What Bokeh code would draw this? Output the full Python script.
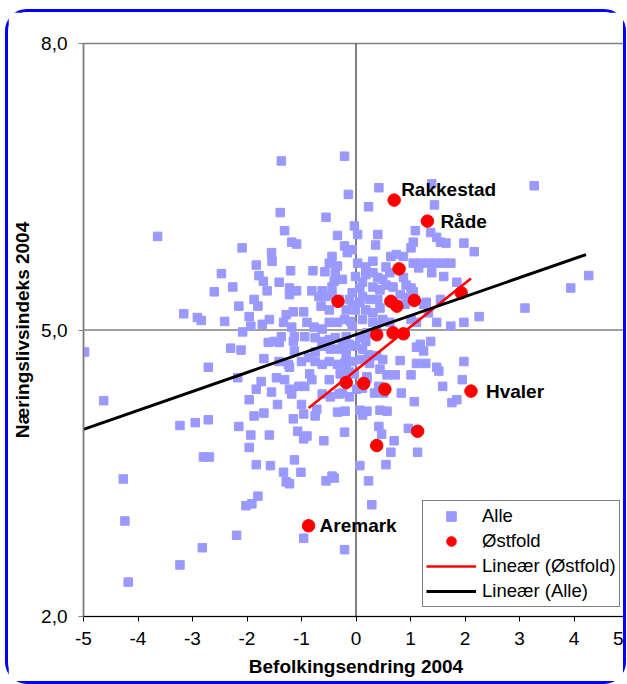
import numpy as np
from bokeh.plotting import figure
from bokeh.models import (ColumnDataSource, Range1d, FixedTicker, Span, Legend,
                          LegendItem, LabelSet)
from bokeh.core.properties import value
from bokeh.embed import file_html
from bokeh.resources import INLINE

# ---------------- data ----------------
alle_x = [-4.98, -4.63, -4.27, -4.24, -4.18, -3.64, -3.23, -2.95, -2.71, -3.23, -2.82, -3.16, -2.91, -2.84,
          -2.60, -2.47, -2.41, -2.71, -1.37, -0.21, -0.14, -1.39, -0.55, 0.42, 0.23, 1.39, 3.27, 1.44,
          -0.03, -1.31, -0.34, -2.09, -1.18, -1.09, -1.55, -1.54, -1.83, -0.21, -0.16, -0.07, -0.44, -0.49,
          -1.20, -0.79, -1.78, -1.70, -0.57, -0.38, -0.40, -0.25, -0.01, -2.26, -1.41, -1.22, -1.09, -1.22,
          -1.63, -0.81, -0.62, -0.44, -0.68, -0.57, -1.87, -1.80, -2.15, -0.64, -0.49, -0.12, -0.07, 0.07,
          -1.96, -1.59, -1.72, -1.93, -2.08, -1.15, -0.96, -1.28, -1.33, -1.18, -0.90, -0.77, -0.62, -0.49,
          -0.34, -0.21, -0.10, -1.37, -1.13, 0.03, 0.40, 0.36, 1.09, 1.37, 1.48, 1.55, 1.65, 1.98, 2.17,
          1.05, 1.01, 0.03, 0.18, 0.31, 0.64, 0.74, 0.87, 1.05, 1.18, 1.33, 1.46, 1.61, 1.74, 0.55, 0.62,
          1.15, 1.39, 1.61, 0.18, 0.31, 0.40, 0.49, 0.87, 0.92, 1.01, 1.05, 1.85, 0.31, 0.44, 0.55, 0.68,
          0.07, 0.12, 0.25, 0.40, 0.81, 0.96, 0.90, -0.01, 0.18, 0.31, 0.44, 1.24, 1.29, 1.55, 0.12, 0.31,
          0.49, 0.62, 1.01, 1.11, 1.48, 1.74, 1.98, 2.26, 3.10, 3.94, 4.27, -0.34, 0.12, 0.66, -0.07, -0.18,
          -0.31, -0.44, 0.38, 1.33, 0.20, -0.18, -0.07, -2.30, -2.11, -1.61, -1.50, -1.41, -1.15, -0.94,
          -0.75, -0.62, -0.49, -0.38, -0.25, -0.12, -1.69, -1.41, -1.24, -1.22, -1.00, -0.87, -0.75, -0.62,
          -0.49, -0.34, -0.20, -0.07, -2.17, -1.74, -1.46, -1.31, -0.85, -0.81, -0.49, -0.29, -0.12, -0.03,
          -1.83, -1.55, -1.22, -1.18, -1.05, -0.94, -0.62, -0.47, -0.31, -0.12, -1.96, -1.44, -1.00, -1.69,
          -1.87, -1.15, -0.96, -0.72, -0.75, -0.34, -0.20, -2.15, -1.93, -1.59, -1.07, -0.96, -0.59, -0.21,
          -1.96, -0.90, -2.80, -2.69, -1.13, -1.83, -1.57, -1.33, -1.01, -1.28, -1.22, -0.55, -0.44, -1.80,
          -2.02, -1.91, -2.19, -0.96, -0.21, 0.07, 1.37, 1.18, 1.24, 1.11, 1.98, 1.95, 1.59, 1.76, 1.85,
          1.48, 1.52, 1.11, 1.28, 0.81, 0.72, 1.01, 0.83, 1.07, 0.42, 0.51, 0.34, 0.20, 0.12, 0.01, -0.25,
          0.07, 0.12, 0.20, 0.44, 0.57, 0.42, 0.47, 0.96, 0.70, 0.64, 1.13, 0.55, -0.40, 0.23, 0.29,
          0.07, 0.18, 0.12, 0.23, 0.08, 0.25, 0.38, 0.49, 0.44, 0.57, 0.20, -0.31, -0.18, -0.18, -0.21,
          -0.62, -0.47, -0.01, -0.75, -1.13]
alle_y = [4.77, 4.26, 3.44, 3.00, 2.36, 5.98, 4.00, 4.03, 4.06, 2.54, 2.72, 5.17, 5.13, 5.10,
          5.40, 5.59, 5.09, 4.61, 6.77, 6.82, 6.42, 6.23, 6.18, 6.49, 6.29, 6.53, 6.51, 6.31,
          6.09, 6.04, 5.99, 5.86, 5.92, 5.90, 5.81, 5.72, 5.68, 5.88, 5.81, 5.84, 5.77, 5.70,
          5.62, 5.62, 5.57, 5.51, 5.61, 5.60, 5.51, 5.53, 5.56, 5.45, 5.50, 5.44, 5.41, 5.37,
          5.41, 5.41, 5.41, 5.45, 5.35, 5.35, 5.32, 5.25, 5.25, 5.25, 5.21, 5.32, 5.39, 5.29,
          5.14, 5.11, 5.06, 5.04, 4.98, 5.19, 5.19, 5.16, 5.08, 5.03, 5.08, 5.03, 5.01, 5.08,
          5.08, 5.11, 5.09, 4.93, 4.93, 6.00, 6.00, 5.89, 6.04, 6.02, 5.97, 5.92, 5.91, 5.91, 5.82,
          5.92, 5.86, 5.70, 5.66, 5.72, 5.77, 5.79, 5.77, 5.70, 5.70, 5.70, 5.70, 5.70, 5.70, 5.66, 5.60,
          5.65, 5.60, 5.56, 5.58, 5.60, 5.55, 5.53, 5.55, 5.47, 5.44, 5.40, 5.50, 5.45, 5.42, 5.47, 5.45,
          5.44, 5.35, 5.32, 5.32, 5.37, 5.34, 5.27, 5.21, 5.21, 5.18, 5.23, 5.27, 5.29, 5.32, 5.11, 5.08,
          5.11, 5.08, 5.11, 5.08, 5.08, 5.04, 5.08, 5.14, 5.23, 5.44, 5.57, 5.67, 5.50, 5.29, 5.26, 5.21,
          5.32, 5.36, 5.04, 5.18, 4.97, 4.93, 5.04, 4.81, 4.79, 4.87, 4.88, 4.87, 4.88, 4.93,
          4.92, 4.88, 4.90, 4.92, 4.85, 4.85, 4.70, 4.67, 4.64, 4.61, 4.67, 4.71, 4.67, 4.64,
          4.67, 4.64, 4.66, 4.67, 4.50, 4.46, 4.50, 4.48, 4.54, 4.48, 4.48, 4.54, 4.56, 4.54,
          4.38, 4.35, 4.38, 4.33, 4.41, 4.41, 4.33, 4.30, 4.33, 4.30, 4.27, 4.22, 4.22, 4.13,
          4.10, 4.07, 4.12, 4.17, 4.10, 4.14, 4.15, 3.99, 3.90, 3.90, 3.94, 3.86, 3.84, 3.93,
          3.77, 3.89, 3.67, 3.67, 3.64, 3.59, 3.58, 3.51, 3.51, 3.41, 3.39, 3.42, 3.47, 3.26,
          3.16, 3.18, 2.85, 2.82, 2.70, 3.58, 4.88, 4.85, 4.78, 4.82, 4.67, 4.48, 4.41, 4.24, 4.27,
          4.61, 4.57, 4.65, 4.65, 4.68, 4.53, 4.53, 4.34, 4.25, 4.41, 4.34, 4.34, 4.51, 4.39, 4.38, 4.34,
          4.16, 4.11, 4.15, 4.16, 4.15, 3.99, 3.91, 3.97, 3.84, 3.72, 3.72, 3.59, 3.45, 3.42, 3.17,
          4.92, 4.88, 4.80, 4.74, 4.69, 4.65, 4.73, 4.69, 4.59, 4.53, 4.49, 4.80, 4.75, 4.62, 4.51,
          4.83, 4.80, 4.83, 4.77, 4.78]

ostfold_x = [0.70, 1.31, 0.79, -0.33, 0.64, 0.75, 1.07, 1.93, 0.38, 0.68, 0.87, -0.18, 0.14, 0.53,
             2.11, 1.13, 0.38, -0.87]
ostfold_y = [6.36, 6.14, 5.64, 5.30, 5.30, 5.25, 5.31, 5.39, 4.95, 4.97, 4.96, 4.45, 4.44, 4.38,
             4.36, 3.94, 3.79, 2.95]
ostfold_names = ["Rakkestad", "Råde", "", "", "", "", "", "", "", "", "", "", "", "",
                 "Hvaler", "", "", "Aremark"]

# linear trend of all municipalities
alle_trend_x = [-5.0, 4.22]
alle_trend_y = [3.96, 5.79]

x_ticks = [-5, -4, -3, -2, -1, 0, 1, 2, 3, 4, 5]
x_tick_labels = ["-5", "-4", "-3", "-2", "-1", "0", "1", "2", "3", "4", "5"]
y_ticks = [2, 5, 8]
y_tick_labels = ["2,0", "5,0", "8,0"]

x_title = "Befolkingsendring 2004"
y_title = "Næringslivsindeks 2004"

# ---------------- figure ----------------
FONT = "Liberation Sans"

p = figure(width=621, height=675, x_range=Range1d(-5, 5), y_range=Range1d(2, 8),
           output_backend="svg", toolbar_location=None,
           min_border_left=75, min_border_right=1, min_border_top=31, min_border_bottom=71)
p.styles = {"border": "3px solid #0000FF", "border-radius": "22px",
            "margin-left": "5px", "margin-top": "9px"}
p.background_fill_color = "white"
p.border_fill_color = "white"
p.outline_line_color = "#808080"
p.outline_line_width = 1.5
p.xgrid.visible = False
p.ygrid.visible = False

# reference lines
p.add_layout(Span(location=5, dimension="width", line_color="#808080", line_width=1.5, level="underlay"))
p.add_layout(Span(location=0, dimension="height", line_color="black", line_width=1, level="underlay"))

alle_src = ColumnDataSource(dict(x=alle_x, y=alle_y))
r_alle = p.scatter("x", "y", source=alle_src, marker="square", size=8.5,
                   fill_color="#9999FF", line_color="#9999FF")

ost_src = ColumnDataSource(dict(x=ostfold_x, y=ostfold_y, name=ostfold_names))
r_ost = p.scatter("x", "y", source=ost_src, marker="circle", size=12.5,
                  fill_color="#FF0000", line_color="#FF0000")

# Østfold linear trend computed from the data
ox = np.array(ostfold_x)
oy = np.array(ostfold_y)
slope, icpt = np.polyfit(ox, oy, 1)
tx = [ox.min(), ox.max()]
r_ost_line = p.line(tx, [slope * v + icpt for v in tx], line_color="#FF0000", line_width=2.5)
r_alle_line = p.line(alle_trend_x, alle_trend_y, line_color="black", line_width=3)

# labels for named municipalities
lab = {"Rakkestad": (7, 11), "Råde": (13, 0), "Hvaler": (15, 0), "Aremark": (11, 0)}
lx, ly, lt, lox, loy = [], [], [], [], []
for xv, yv, nm in zip(ostfold_x, ostfold_y, ostfold_names):
    if nm:
        lx.append(xv); ly.append(yv); lt.append(nm)
        lox.append(lab[nm][0]); loy.append(lab[nm][1])
lab_src = ColumnDataSource(dict(x=lx, y=ly, t=lt, ox=lox, oy=loy))
p.add_layout(LabelSet(x="x", y="y", text="t", x_offset="ox", y_offset="oy", source=lab_src,
                      text_font=value(FONT), text_font_size=value("19px"),
                      text_font_style=value("bold"),
                      text_baseline=value("middle"), text_align=value("left"),
                      text_color=value("black")))

# axes
p.xaxis.ticker = FixedTicker(ticks=x_ticks)
p.xaxis.major_label_overrides = {t: l for t, l in zip(x_ticks, x_tick_labels)}
p.yaxis.ticker = FixedTicker(ticks=y_ticks)
p.yaxis.major_label_overrides = {t: l for t, l in zip(y_ticks, y_tick_labels)}
for ax in (p.xaxis, p.yaxis):
    ax.minor_tick_line_color = None
    ax.major_tick_in = 0
    ax.major_tick_out = 5
    ax.major_label_text_font = FONT
    ax.major_label_text_font_size = "19px"
    ax.major_label_text_color = "black"
    ax.axis_label_text_font = FONT
    ax.axis_label_text_font_size = "19px"
    ax.axis_label_text_font_style = "bold"
    ax.axis_label_text_color = "black"
p.xaxis.axis_label = x_title
p.yaxis.axis_label = y_title
p.xaxis.axis_label_standoff = 8
p.yaxis.axis_label_standoff = 5
p.xaxis.axis_line_color = "black"
p.xaxis.major_tick_line_color = "black"
p.xaxis.major_label_standoff = 10
p.yaxis.axis_line_color = "#808080"
p.yaxis.axis_line_width = 1.5
p.yaxis.major_tick_line_color = "#808080"
p.yaxis.major_label_standoff = 11

legend = Legend(items=[LegendItem(label="Alle", renderers=[r_alle]),
                       LegendItem(label="Østfold", renderers=[r_ost]),
                       LegendItem(label="Lineær (Østfold)", renderers=[r_ost_line]),
                       LegendItem(label="Lineær (Alle)", renderers=[r_alle_line])],
                location=(339, 9))
legend.border_line_color = "black"
legend.border_line_width = 1
legend.background_fill_color = "white"
legend.background_fill_alpha = 1
legend.label_text_font = FONT
legend.label_text_font_size = "18.5px"
legend.label_text_color = "black"
legend.glyph_width = 50
legend.glyph_height = 24
legend.label_height = 24
legend.spacing = 1
legend.padding = 3
legend.margin = 0
legend.label_standoff = 6
p.add_layout(legend, "center")

open("out.html", "w").write(file_html(p, INLINE))
